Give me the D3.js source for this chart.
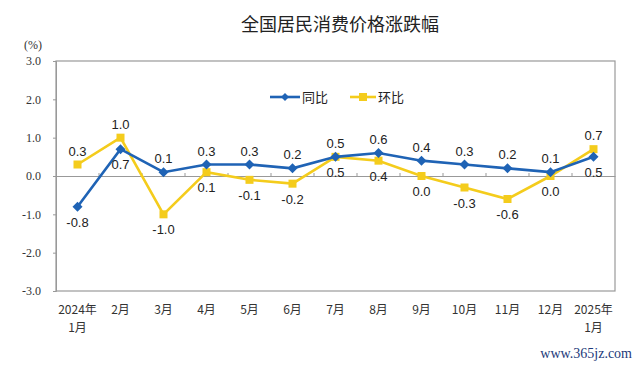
<!DOCTYPE html>
<html><head><meta charset="utf-8">
<script src="https://cdn.jsdelivr.net/npm/d3@7"></script>
<style>body{margin:0;background:#fff}</style>
</head><body>
<svg id="c" width="640" height="368"></svg>
<script>
const categories = ["2024年\n1月","2月","3月","4月","5月","6月","7月","8月","9月","10月","11月","12月","2025年\n1月"];
const yoy = [-0.8,0.7,0.1,0.3,0.3,0.2,0.5,0.6,0.4,0.3,0.2,0.1,0.5];
const mom = [0.3,1.0,-1.0,0.1,-0.1,-0.2,0.5,0.4,0.0,-0.3,-0.6,0.0,0.7];
const yoyLabelPos = ["b","b","a","a","a","a","b","a","a","a","a","a","b"];
const momLabelPos = ["a","a","b","b","b","b","a","b","b","b","b","b","a"];
const yTicks = [3,2,1,0,-1,-2,-3];

const svg = d3.select("#c");
const L=56,R=615,T=61,B=291;
const x = d3.scaleBand().domain(d3.range(categories.length)).range([L,R]);
const y = d3.scaleLinear().domain([-3,3]).range([B,T]);
const fmt = v => (v<0?"-":"")+Math.abs(v).toFixed(1);
const cx = i => x(i)+x.bandwidth()/2;
const gray="#999";

svg.append("text").attr("x",340).attr("y",31).attr("text-anchor","middle")
 .attr("font-family","Noto Sans CJK SC").attr("font-size",18).attr("fill","#222").text("全国居民消费价格涨跌幅");
svg.append("text").attr("x",33).attr("y",49).attr("text-anchor","middle")
 .attr("font-family","Liberation Serif").attr("font-size",12).attr("fill","#333").text("(%)");

// frame
svg.append("rect").attr("x",L).attr("y",T).attr("width",R-L).attr("height",B-T)
 .attr("fill","none").attr("stroke",gray).attr("stroke-width",1.2);

// y axis
const ya = svg.append("g").attr("transform",`translate(${L},0)`)
 .call(d3.axisLeft(y).tickValues(yTicks).tickFormat(fmt).tickSize(3).tickPadding(12));
ya.select(".domain").attr("stroke",gray);
ya.selectAll("line").attr("stroke",gray);
ya.selectAll("text").attr("font-family","Liberation Serif").attr("font-size",12).attr("fill","#333");

// zero line with ticks
const xa = svg.append("g").attr("transform",`translate(0,${y(0)})`)
 .call(d3.axisBottom(x).tickValues([]).tickSizeOuter(0));
xa.select(".domain").attr("stroke",gray).attr("stroke-width",1.2);
svg.append("g").selectAll("line").data(d3.range(1,categories.length)).join("line")
 .attr("x1",i=>x(i)).attr("x2",i=>x(i)).attr("y1",y(0)-3).attr("y2",y(0))
 .attr("stroke",gray);

// x labels
const xl = svg.append("g");
categories.forEach((c,i)=>{
  const t = xl.append("text").attr("x",cx(i)).attr("y",B+23).attr("text-anchor","middle")
   .attr("font-family","Noto Sans CJK SC").attr("font-size",12).attr("fill","#333");
  c.split("\n").forEach((s,k)=>t.append("tspan").attr("x",cx(i)).attr("dy",k?18:0).text(s));
});

const blue="#1f63b5", yellow="#f4cc1c";
const line = d3.line().x((d,i)=>cx(i)).y(d=>y(d));
svg.append("path").datum(mom).attr("d",line).attr("fill","none").attr("stroke",yellow).attr("stroke-width",2.6);
svg.append("g").selectAll("rect").data(mom).join("rect")
 .attr("x",(d,i)=>cx(i)-4).attr("y",d=>y(d)-4).attr("width",8).attr("height",8).attr("fill",yellow);
svg.append("path").datum(yoy).attr("d",line).attr("fill","none").attr("stroke",blue).attr("stroke-width",2.6);
svg.append("g").selectAll("path.m").data(yoy).join("path")
 .attr("d",(d,i)=>`M${cx(i)},${y(d)-5}L${cx(i)+5},${y(d)}L${cx(i)},${y(d)+5}L${cx(i)-5},${y(d)}Z`).attr("fill",blue);

function labels(data,pos){
  svg.append("g").selectAll("text").data(data).join("text")
   .attr("x",(d,i)=>cx(i)).attr("y",(d,i)=>pos[i]==="a"?y(d)-9:y(d)+20)
   .attr("text-anchor","middle").attr("font-family","Liberation Sans").attr("font-size",13).attr("fill","#222")
   .text(d=>fmt(d));
}
labels(yoy,yoyLabelPos);
labels(mom,momLabelPos);

// legend
const lg = svg.append("g");
lg.append("line").attr("x1",270).attr("x2",300).attr("y1",97).attr("y2",97).attr("stroke",blue).attr("stroke-width",2.6);
lg.append("path").attr("d","M285,93L289,97L285,101L281,97Z").attr("fill",blue);
lg.append("text").attr("x",302).attr("y",102).attr("font-family","Noto Sans CJK SC").attr("font-size",13).attr("fill","#222").text("同比");
lg.append("line").attr("x1",350).attr("x2",376).attr("y1",97).attr("y2",97).attr("stroke",yellow).attr("stroke-width",2.6);
lg.append("rect").attr("x",359).attr("y",93).attr("width",8).attr("height",8).attr("fill",yellow);
lg.append("text").attr("x",378).attr("y",102).attr("font-family","Noto Sans CJK SC").attr("font-size",13).attr("fill","#222").text("环比");

svg.append("text").attr("x",632).attr("y",358).attr("text-anchor","end")
 .attr("font-family","Liberation Serif").attr("font-size",14).attr("fill","#1d3a7a").text("www.365jz.com");
</script>
</body></html>
